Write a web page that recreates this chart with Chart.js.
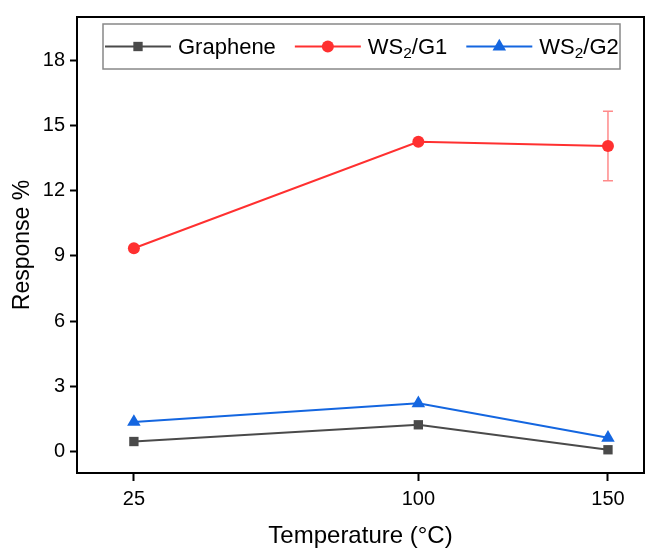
<!DOCTYPE html>
<html>
<head>
<meta charset="utf-8">
<script src="https://cdn.jsdelivr.net/npm/chart.js@4.4.1/dist/chart.umd.min.js"></script>
<style>
  html, body { margin: 0; padding: 0; background: #fff; overflow: hidden; }
</style>
</head>
<body>
<canvas id="chart" width="646" height="548"></canvas>
<script>
// data
const temperatures = [25, 100, 150];
const xTicks = [25, 100, 150];
const yTicks = [0, 3, 6, 9, 12, 15, 18];
const seriesNames = ['Graphene', 'WS_2/G1', 'WS_2/G2'];
const graphene = [0.45, 1.22, 0.07];
const wsG1 = [9.35, 14.25, 14.06];
const wsG1Err = [0, 0, 1.6];
const wsG2 = [1.35, 2.21, 0.62];

const FONT = 'Liberation Sans, Arial, Helvetica, sans-serif';
const colors = ['#4a4a4a', '#ff3030', '#1466e0'];
const markers = ['rect', 'circle', 'triangle'];
const radii = [6.6, 6, 7.8];

function toPoints(values) {
    return temperatures.map((t, i) => ({ x: t, y: values[i] }));
}

// draws "WS_2/G1" with a real subscript
function drawLabel(ctx, text, x, y, size) {
    const parts = text.split(/_(\d)/);
    let cx = x;
    parts.forEach((p, i) => {
        const sub = i % 2 === 1;
        ctx.font = (sub ? size * 0.7 : size) + 'px ' + FONT;
        ctx.fillText(p, cx, sub ? y + size * 0.28 : y);
        cx += ctx.measureText(p).width;
    });
    return cx - x;
}

const frame = {
    id: 'frame',
    afterDraw(chart) {
        const { ctx, chartArea: a } = chart;
        ctx.save();
        ctx.strokeStyle = '#000';
        ctx.lineWidth = 2;
        ctx.beginPath();
        ctx.moveTo(a.left, a.top);
        ctx.lineTo(a.right, a.top);
        ctx.lineTo(a.right, a.bottom);
        ctx.stroke();
        ctx.restore();
    }
};

const errorBars = {
    id: 'errorBars',
    beforeDatasetsDraw(chart) {
        const { ctx, scales: { x, y } } = chart;
        ctx.save();
        ctx.strokeStyle = 'rgba(255, 60, 60, 0.6)';
        ctx.lineWidth = 1.5;
        wsG1Err.forEach((e, i) => {
            if (!e) return;
            const px = x.getPixelForValue(temperatures[i]);
            const top = y.getPixelForValue(wsG1[i] + e);
            const bot = y.getPixelForValue(wsG1[i] - e);
            ctx.beginPath();
            ctx.moveTo(px, top); ctx.lineTo(px, bot);
            ctx.moveTo(px - 5, top); ctx.lineTo(px + 5, top);
            ctx.moveTo(px - 5, bot); ctx.lineTo(px + 5, bot);
            ctx.stroke();
        });
        ctx.restore();
    }
};

const boxLegend = {
    id: 'boxLegend',
    afterDraw(chart) {
        const { ctx, chartArea: a } = chart;
        const left = a.left + 26, top = a.top + 7, w = 517, h = 45;
        const cy = top + h / 2;
        ctx.save();
        ctx.fillStyle = '#fff';
        ctx.fillRect(left, top, w, h);
        ctx.strokeStyle = '#888';
        ctx.lineWidth = 1.5;
        ctx.strokeRect(left, top, w, h);

        let x = left + 2;
        chart.data.datasets.forEach((ds, i) => {
            ctx.strokeStyle = ds.borderColor;
            ctx.lineWidth = 2;
            ctx.beginPath();
            ctx.moveTo(x, cy); ctx.lineTo(x + 66, cy);
            ctx.stroke();
            ctx.fillStyle = ds.pointBackgroundColor;
            Chart.helpers.drawPoint(ctx, {
                pointStyle: ds.pointStyle, rotation: 0, borderWidth: 0, radius: ds.pointRadius
            }, x + 33, cy);
            ctx.fillStyle = '#000';
            ctx.textBaseline = 'middle';
            const tw = drawLabel(ctx, ds.label, x + 73, cy + 1, 22);
            x += 73 + tw + 19;
        });
        ctx.restore();
    }
};

const tickFont = { family: FONT, size: 20 };

new Chart(document.getElementById('chart'), {
    type: 'line',
    data: {
        datasets: [graphene, wsG1, wsG2].map((vals, i) => ({
            label: seriesNames[i],
            data: toPoints(vals),
            borderColor: colors[i],
            backgroundColor: colors[i],
            pointBackgroundColor: colors[i],
            pointBorderColor: colors[i],
            pointBorderWidth: 0,
            pointStyle: markers[i],
            pointRadius: radii[i],
            borderWidth: 2,
            tension: 0
        }))
    },
    options: {
        responsive: false,
        animation: false,
        layout: { autoPadding: false, padding: { top: 15, right: 2, left: 0, bottom: 0 } },
        plugins: { legend: { display: false }, tooltip: { enabled: false } },
        scales: {
            x: {
                type: 'linear',
                min: 10, max: 159.5,
                afterBuildTicks: s => { s.ticks = xTicks.map(v => ({ value: v })); },
                afterFit: s => { s.height = 75; },
                grid: { drawOnChartArea: false, drawTicks: true, tickLength: 8, tickWidth: 2, tickColor: '#000' },
                border: { color: '#000', width: 2 },
                ticks: { font: tickFont, color: '#000', padding: 6, maxRotation: 0, autoSkip: false },
                title: { display: true, text: 'Temperature (°C)', color: '#000',
                         font: { family: FONT, size: 24, lineHeight: 0.95 }, padding: 0 }
            },
            y: {
                min: -1, max: 20,
                afterBuildTicks: s => { s.ticks = yTicks.map(v => ({ value: v })); },
                afterFit: s => { s.width = 77; },
                grid: { drawOnChartArea: false, drawTicks: true, tickLength: 7, tickWidth: 2, tickColor: '#000' },
                border: { color: '#000', width: 2 },
                ticks: { font: tickFont, color: '#000', padding: 5 },
                title: { display: true, text: 'Response %', color: '#000',
                         font: { family: FONT, size: 23 }, padding: { top: 9, bottom: 0 } }
            }
        }
    },
    plugins: [errorBars, frame, boxLegend]
});
</script>
</body>
</html>
